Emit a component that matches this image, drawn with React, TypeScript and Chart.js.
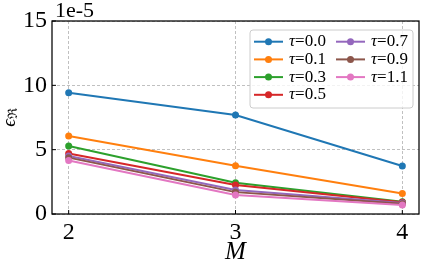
import React, { useEffect, useRef } from 'react';
import { Chart, registerables } from 'chart.js';
Chart.register(...registerables);

const M_VALUES = [2, 3, 4];
const TAU_LABELS = ['0.0', '0.1', '0.3', '0.5', '0.7', '0.9', '1.1'];
const COLORS = ['#1f77b4', '#ff7f0e', '#2ca02c', '#d62728', '#9467bd', '#8c564b', '#e377c2'];
const TAU_00 = [9.43e-5, 7.7e-5, 3.73e-5];
const TAU_01 = [6.06e-5, 3.75e-5, 1.6e-5];
const TAU_03 = [5.28e-5, 2.43e-5, 0.95e-5];
const TAU_05 = [4.7e-5, 2.25e-5, 0.92e-5];
const TAU_07 = [4.5e-5, 1.86e-5, 0.85e-5];
const TAU_09 = [4.38e-5, 1.7e-5, 0.8e-5];
const TAU_11 = [4.15e-5, 1.48e-5, 0.7e-5];
const SERIES = [TAU_00, TAU_01, TAU_03, TAU_05, TAU_07, TAU_09, TAU_11];
const X_TICKS = [2, 3, 4];
const Y_TICKS = [0, 5e-5, 10e-5, 15e-5];
const OFFSET = 1e-5;
const OFFSET_LABEL = '1e-5';
const X_TITLE = 'M';
const Y_TITLE_MAIN = '\u03F5';
const Y_TITLE_SUB = '\u211C';

const FONT = "'Liberation Serif', 'DejaVu Serif', serif";

const decorPlugin = {
  id: 'decor',
  beforeDatasetsDraw(chart: any) {
    // nothing
  },
  afterDraw(chart: any) {
    const ctx = chart.ctx as CanvasRenderingContext2D;
    const a = chart.chartArea;
    const xs = chart.scales.x;
    const ys = chart.scales.y;
    ctx.save();
    // frame
    ctx.strokeStyle = '#000';
    ctx.lineWidth = 1.25;
    ctx.setLineDash([]);
    ctx.strokeRect(a.left, a.top, a.right - a.left, a.bottom - a.top);
    // inward ticks
    ctx.lineWidth = 1;
    X_TICKS.forEach((t) => {
      const px = xs.getPixelForValue(t);
      ctx.beginPath();
      ctx.moveTo(px, a.bottom);
      ctx.lineTo(px, a.bottom - 4);
      ctx.stroke();
    });
    Y_TICKS.forEach((t) => {
      const py = ys.getPixelForValue(t);
      ctx.beginPath();
      ctx.moveTo(a.left, py);
      ctx.lineTo(a.left + 4, py);
      ctx.stroke();
    });
    // offset text
    ctx.fillStyle = '#000';
    ctx.font = `22px ${FONT}`;
    ctx.textAlign = 'left';
    ctx.textBaseline = 'alphabetic';
    ctx.fillText(OFFSET_LABEL, a.left + 3, a.top - 4);
    // y title
    ctx.save();
    ctx.translate(10, (a.top + a.bottom) / 2);
    ctx.rotate(-Math.PI / 2);
    ctx.font = `italic 19px ${FONT}`;
    const w1 = ctx.measureText(Y_TITLE_MAIN).width;
    ctx.font = `13px ${FONT}`;
    const w2 = ctx.measureText(Y_TITLE_SUB).width;
    const start = -(w1 + w2) / 2;
    ctx.textBaseline = 'middle';
    ctx.font = `italic 19px ${FONT}`;
    ctx.fillText(Y_TITLE_MAIN, start, 0);
    ctx.font = `13px ${FONT}`;
    ctx.fillText(Y_TITLE_SUB, start + w1, 4);
    ctx.restore();
    // legend
    const bw = 163, bh = 78;
    const bx = a.right - 169, by = a.top + 9;
    ctx.beginPath();
    const r = 3;
    ctx.moveTo(bx + r, by);
    ctx.arcTo(bx + bw, by, bx + bw, by + bh, r);
    ctx.arcTo(bx + bw, by + bh, bx, by + bh, r);
    ctx.arcTo(bx, by + bh, bx, by, r);
    ctx.arcTo(bx, by, bx + bw, by, r);
    ctx.closePath();
    ctx.fillStyle = 'rgba(255,255,255,0.8)';
    ctx.fill();
    ctx.strokeStyle = '#cccccc';
    ctx.lineWidth = 1;
    ctx.stroke();
    chart.data.datasets.forEach((ds: any, i: number) => {
      const col = i < 4 ? 0 : 1;
      const row = i < 4 ? i : i - 4;
      const cy = by + 11.7 + row * 17.7;
      const lx = bx + (col === 0 ? 4 : 86);
      ctx.strokeStyle = ds.borderColor;
      ctx.lineWidth = 2;
      ctx.beginPath();
      ctx.moveTo(lx, cy);
      ctx.lineTo(lx + 29, cy);
      ctx.stroke();
      ctx.fillStyle = ds.borderColor;
      ctx.beginPath();
      ctx.arc(lx + 14.5, cy, 3.5, 0, Math.PI * 2);
      ctx.fill();
      ctx.fillStyle = '#000';
      ctx.textBaseline = 'middle';
      ctx.textAlign = 'left';
      const tx = lx + 35;
      ctx.font = `italic 17px ${FONT}`;
      ctx.fillText('\u03C4', tx, cy);
      const tw = ctx.measureText('\u03C4').width;
      ctx.font = `17px ${FONT}`;
      ctx.fillText('=' + TAU_LABELS[i], tx + tw, cy);
    });
    ctx.restore();
  },
};

export default function App() {
  const ref = useRef<HTMLCanvasElement>(null);
  useEffect(() => {
    if (!ref.current) return;
    const chart = new Chart(ref.current, {
      type: 'line',
      data: {
        datasets: SERIES.map((s, i) => ({
          label: '\u03C4=' + TAU_LABELS[i],
          data: s.map((v, j) => ({ x: M_VALUES[j], y: v })),
          borderColor: COLORS[i],
          backgroundColor: COLORS[i],
          borderWidth: 2,
          pointRadius: 3.5,
          pointBorderWidth: 0,
          pointHoverRadius: 3.5,
          order: SERIES.length - i,
        })),
      },
      options: {
        animation: false,
        responsive: false,
        layout: { padding: { top: 21, right: 4, left: 0, bottom: 0 } },
        plugins: { legend: { display: false }, tooltip: { enabled: false } },
        scales: {
          x: {
            type: 'linear',
            min: 1.9,
            max: 4.1,
            afterBuildTicks: (s: any) => {
              s.ticks = X_TICKS.map((v) => ({ value: v }));
            },
            afterFit: (s: any) => {
              s.height = 53;
            },
            ticks: {
              color: '#000',
              font: { family: FONT, size: 24 },
              padding: 4,
              maxRotation: 0,
              callback: (v: any) => String(v),
            },
            grid: { color: '#b0b0b0', lineWidth: 0.8, drawTicks: false },
            border: { display: false, dash: [3, 2] },
            title: {
              display: true,
              text: X_TITLE,
              color: '#000',
              font: { family: FONT, size: 25, style: 'italic' },
              padding: { top: 0, bottom: 0 },
            },
          },
          y: {
            type: 'linear',
            min: 0,
            max: 15e-5,
            afterBuildTicks: (s: any) => {
              s.ticks = Y_TICKS.map((v) => ({ value: v }));
            },
            afterFit: (s: any) => {
              s.width = 52;
            },
            ticks: {
              color: '#000',
              font: { family: FONT, size: 24 },
              padding: 5,
              callback: (v: any) => String(Math.round(v / OFFSET)),
            },
            grid: { color: '#b0b0b0', lineWidth: 0.8, drawTicks: false },
            border: { display: false, dash: [3, 2] },
          },
        },
      },
      plugins: [decorPlugin],
    } as any);
    return () => chart.destroy();
  }, []);
  return (
    <div style={{ position: 'absolute', left: 0, top: 0, width: 423, height: 267, background: '#fff' }}>
      <canvas ref={ref} width={423} height={267} style={{ display: 'block' }} />
    </div>
  );
}
